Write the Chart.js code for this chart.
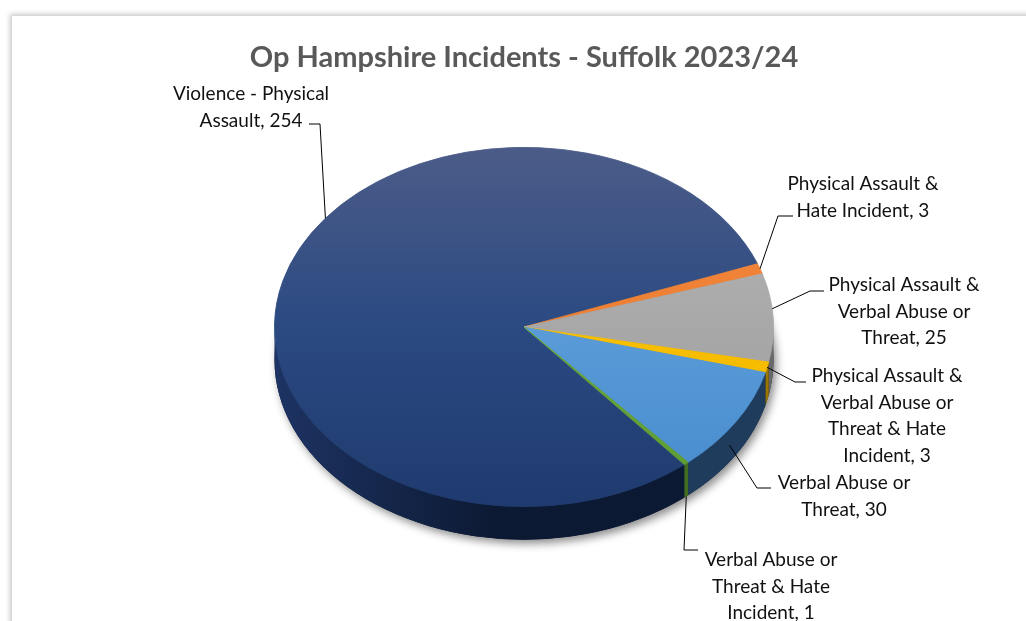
<!DOCTYPE html>
<html lang="en">
  <head>
    <meta charset="UTF-8" />
    <title>Op Hampshire Incidents - Suffolk 2023/24</title>
    <script src="https://cdn.jsdelivr.net/npm/chart.js"></script>
    <style>
      body {
        margin: 0;
        background: #ffffff;
        overflow: hidden;
      }
      #frame {
        position: absolute;
        left: 12px;
        top: 16px;
        width: 1100px;
        height: 700px;
        background: #ffffff;
        box-shadow: 0 0 5px 2px rgba(0, 0, 0, 0.22);
      }
      #wrap {
        position: absolute;
        left: 0;
        top: 0;
        width: 1026px;
        height: 621px;
      }
    </style>
  </head>
  <body>
    <div id="frame"></div>
    <div id="wrap"><canvas id="pieChart"></canvas></div>

    <script>
      // chart data
      const chartTitle = "Op Hampshire Incidents - Suffolk 2023/24";
      const categories = [
        "Violence - Physical Assault",
        "Physical Assault & Hate Incident",
        "Physical Assault & Verbal Abuse or Threat",
        "Physical Assault & Verbal Abuse or Threat & Hate Incident",
        "Verbal Abuse or Threat",
        "Verbal Abuse or Threat & Hate Incident",
      ];
      const incidents = [254, 3, 25, 3, 30, 1];
      // label text as it is wrapped on the chart
      const labelLines = [
        ["Violence - Physical", "Assault, 254"],
        ["Physical Assault &", "Hate Incident, 3"],
        ["Physical Assault &", "Verbal Abuse or", "Threat, 25"],
        ["Physical Assault &", "Verbal Abuse or", "Threat & Hate", "Incident, 3"],
        ["Verbal Abuse or", "Threat, 30"],
        ["Verbal Abuse or", "Threat & Hate", "Incident, 1"],
      ];

      // styling
      const topColors = [
        ["#4c5c88", "#2b4a82", "#1f3a6e"],
        ["#f28b40", "#ee7f33", "#e07428"],
        ["#b8b8b8", "#a8a8a8", "#9a9a9a"],
        ["#ffc81a", "#f9bf00", "#eab300"],
        ["#6aa8de", "#5a9bd8", "#468bcd"],
        ["#74b24a", "#6aa83e", "#5c9a33"],
      ];
      const wallColors = [
        ["#1d3363", "#0c1932"],
        ["#a9561c", "#8f4816"],
        ["#7b7b7b", "#686868"],
        ["#b38a00", "#9a7600"],
        ["#28496f", "#1f3c5d"],
        ["#4f822c", "#406d22"],
      ];
      // leader line / label placement
      const labelLayout = [
        { t: 0.578, drop: 0, elbow: [320, 124], end: [309, 124], x: 251, y: 94 },
        { t: 0.5, drop: 0, elbow: [778, 216], end: [793, 216], x: 863, y: 184 },
        { t: 0.4, drop: 0, elbow: [810, 291], end: [824, 291], x: 904, y: 285 },
        { t: 0.5, drop: 0, elbow: [795, 382], end: [806, 382], x: 887, y: 376 },
        { t: 0.58, drop: 0.5, elbow: [757, 488], end: [771, 488], x: 844, y: 483 },
        { t: 0.5, drop: 1, elbow: [684, 550], end: [698, 550], x: 771, y: 560 },
      ];
      const TILT = 0.72;
      const DEPTH = 33;
      const LINE_H = 26.5;

      function topFill(context) {
        const chart = context.chart;
        const area = chart.chartArea;
        if (!area) return topColors[context.dataIndex][1];
        const c = topColors[context.dataIndex];
        const g = chart.ctx.createLinearGradient(0, area.top, 0, area.bottom);
        g.addColorStop(0, c[0]);
        g.addColorStop(0.5, c[1]);
        g.addColorStop(1, c[2]);
        return g;
      }

      const pie3d = {
        id: "pie3d",
        beforeDatasetsDraw(chart) {
          const ctx = chart.ctx;
          const arcs = chart.getDatasetMeta(0).data;
          const cx = arcs[0].x;
          const cy = arcs[0].y;
          const r = arcs[0].outerRadius;
          const ry = r * TILT;

          // soft shadow under the disc
          ctx.save();
          ctx.shadowColor = "rgba(0,0,0,0.45)";
          ctx.shadowBlur = 9;
          ctx.shadowOffsetX = 3;
          ctx.shadowOffsetY = 4;
          ctx.fillStyle = "#0c1830";
          ctx.beginPath();
          ctx.ellipse(cx, cy + DEPTH, r, ry, 0, 0, 2 * Math.PI);
          ctx.fill();
          ctx.restore();

          // front walls of each slice
          arcs.forEach((arc, i) => {
            [-2 * Math.PI, 0, 2 * Math.PI].forEach((base) => {
              const a = Math.max(arc.startAngle, base);
              const b = Math.min(arc.endAngle, base + Math.PI);
              if (b <= a) return;
              const g = ctx.createLinearGradient(cx - r, 0, cx + r, 0);
              g.addColorStop(0, wallColors[i][0]);
              g.addColorStop(0.45, wallColors[i][1]);
              g.addColorStop(1, wallColors[i][1]);
              ctx.beginPath();
              ctx.ellipse(cx, cy, r, ry, 0, a, b);
              ctx.ellipse(cx, cy + DEPTH, r, ry, 0, b, a, true);
              ctx.closePath();
              ctx.fillStyle = g;
              ctx.fill();
            });
          });

          // squash the top face into an ellipse
          ctx.save();
          ctx.translate(cx, cy);
          ctx.scale(1, TILT);
          ctx.translate(-cx, -cy);
        },
        afterDatasetsDraw(chart) {
          chart.ctx.restore();
        },
        afterDraw(chart) {
          const ctx = chart.ctx;
          const arcs = chart.getDatasetMeta(0).data;
          const cx = arcs[0].x;
          const cy = arcs[0].y;
          const r = arcs[0].outerRadius;
          const ry = r * TILT;
          ctx.save();
          ctx.textAlign = "center";
          ctx.textBaseline = "middle";

          // title
          ctx.font = "bold 29px Lato";
          ctx.fillStyle = "#595959";
          ctx.fillText(chartTitle, cx, 58);

          ctx.strokeStyle = "#000000";
          ctx.lineWidth = 1;
          ctx.font = "19px Lato";
          ctx.fillStyle = "#111111";
          arcs.forEach((arc, i) => {
            const L = labelLayout[i];
            const ang = arc.startAngle + L.t * (arc.endAngle - arc.startAngle);
            const px = cx + r * Math.cos(ang);
            const py = cy + ry * Math.sin(ang) + L.drop * DEPTH;
            ctx.beginPath();
            ctx.moveTo(px, py);
            ctx.lineTo(L.elbow[0], L.elbow[1]);
            ctx.lineTo(L.end[0], L.end[1]);
            ctx.stroke();
            labelLines[i].forEach((line, j) => {
              ctx.fillText(line, L.x, L.y + j * LINE_H);
            });
          });
          ctx.restore();
        },
      };

      const ctx = document.getElementById("pieChart").getContext("2d");
      const pieChart = new Chart(ctx, {
        type: "pie",
        data: {
          labels: categories,
          datasets: [
            {
              data: incidents,
              backgroundColor: topFill,
              borderColor: topFill,
              borderWidth: 1,
            },
          ],
        },
        options: {
          responsive: true,
          maintainAspectRatio: false,
          animation: false,
          rotation: 140,
          layout: {
            padding: { left: 274, right: 252, top: 77, bottom: 44 },
          },
          plugins: {
            legend: { display: false },
            tooltip: { enabled: false },
            title: { display: false },
          },
        },
        plugins: [pie3d],
      });
    </script>
  </body>
</html>
